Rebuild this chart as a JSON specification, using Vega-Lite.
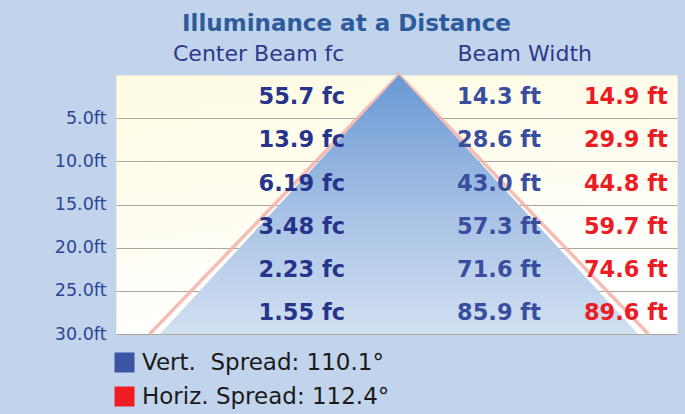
{
  "$schema": "https://vega.github.io/schema/vega-lite/v6.json",
  "width": 561,
  "height": 259,
  "autosize": {"type": "none"},
  "padding": {"left": 116, "top": 75, "right": 8, "bottom": 80},
  "background": "#c2d4ec",
  "title": {
    "text": "Illuminance at a Distance",
    "font": "DejaVu Sans",
    "fontSize": 23,
    "fontWeight": "bold",
    "color": "#2e5b9c",
    "anchor": "middle",
    "dx": -50,
    "offset": 6
  },
  "config": {
    "view": {
      "fill": {"gradient": "linear", "x1": 0, "y1": 0, "x2": 0.3, "y2": 1, "stops": [{"offset": 0, "color": "#fffbe2"}, {"offset": 1, "color": "#ffffff"}]},
      "stroke": "#eeeae0"
    }
  },
  "data": {
    "values": [
      {"d": 5, "fc": 55.7, "vert": 14.3, "horiz": 14.9},
      {"d": 10, "fc": 13.9, "vert": 28.6, "horiz": 29.9},
      {"d": 15, "fc": 6.19, "vert": 43.0, "horiz": 44.8},
      {"d": 20, "fc": 3.48, "vert": 57.3, "horiz": 59.7},
      {"d": 25, "fc": 2.23, "vert": 71.6, "horiz": 74.6},
      {"d": 30, "fc": 1.55, "vert": 85.9, "horiz": 89.6}
    ]
  },
  "layer": [
    {
      "data": {"values": [{"w": -44.8, "d": 30}, {"w": 0, "d": 0}, {"w": 44.8, "d": 30}]},
      "mark": {"type": "line", "color": "#f3b2a8", "strokeWidth": 3.5, "opacity": 0.85, "clip": false},
      "encoding": {
        "x": {
          "field": "w", "type": "quantitative",
          "scale": {"domain": [-50.85, 49.95], "nice": false, "zero": false},
          "axis": {
            "orient": "top", "values": [-25.3, 22.5],
            "labelExpr": "datum.value < 0 ? 'Center Beam fc' : 'Beam Width'",
            "labelFont": "DejaVu Sans", "labelFontSize": 22, "labelColor": "#2b3a8a",
            "labelPadding": 10, "ticks": false, "domain": false, "grid": false, "title": null
          }
        },
        "y": {
          "field": "d", "type": "quantitative",
          "scale": {"domain": [0, 30], "reverse": true, "nice": false, "zero": false},
          "axis": {
            "values": [5, 10, 15, 20, 25, 30],
            "labelExpr": "format(datum.value, '.1f') + 'ft'",
            "labelFont": "DejaVu Sans", "labelFontSize": 17.5, "labelColor": "#2b4595",
            "labelPadding": 10, "ticks": false, "domain": false,
            "grid": true, "gridColor": "#aca69c", "gridWidth": 1.2, "title": null
          }
        },
        "order": {"field": "w", "type": "quantitative"}
      }
    },
    {
      "data": {"values": [{"w": -42.95, "d": 30}, {"w": 0, "d": 0}, {"w": 42.95, "d": 30}]},
      "mark": {
        "type": "area",
        "clip": false,
        "color": {"gradient": "linear", "x1": 0, "y1": 0, "x2": 0, "y2": 1, "stops": [{"offset": 0, "color": "#6a98d4"}, {"offset": 0.55, "color": "#a9c3e6"}, {"offset": 1, "color": "#d2e0f2"}]}
      },
      "encoding": {
        "x": {"field": "w", "type": "quantitative"},
        "y": {"field": "d", "type": "quantitative"},
        "y2": {"datum": 30}
      }
    },
    {
      "transform": [{"calculate": "format(datum.fc, '.3') + ' fc'", "as": "fcl"}],
      "mark": {"type": "text", "align": "right", "baseline": "middle", "dy": -21, "font": "DejaVu Sans", "fontSize": 22.5, "fontWeight": "bold", "color": "#27348b"},
      "encoding": {
        "x": {"datum": -9.7},
        "y": {"field": "d", "type": "quantitative"},
        "text": {"field": "fcl"}
      }
    },
    {
      "transform": [{"calculate": "format(datum.vert, '.1f') + ' ft'", "as": "vl"}],
      "mark": {"type": "text", "align": "right", "baseline": "middle", "dy": -21, "font": "DejaVu Sans", "fontSize": 22.5, "fontWeight": "bold", "color": "#3a4ea0"},
      "encoding": {
        "x": {"datum": 25.5},
        "y": {"field": "d", "type": "quantitative"},
        "text": {"field": "vl"}
      }
    },
    {
      "transform": [{"calculate": "format(datum.horiz, '.1f') + ' ft'", "as": "hl"}],
      "mark": {"type": "text", "align": "right", "baseline": "middle", "dy": -21, "font": "DejaVu Sans", "fontSize": 22.5, "fontWeight": "bold", "color": "#ec1c24"},
      "encoding": {
        "x": {"datum": 48.3},
        "y": {"field": "d", "type": "quantitative"},
        "text": {"field": "hl"}
      }
    },
    {
      "data": {"values": [{"series": "Vert.\u00a0 Spread: 110.1°"}, {"series": "Horiz. Spread: 112.4°"}]},
      "mark": {"type": "point", "filled": true, "opacity": 0},
      "encoding": {
        "x": {"datum": 0},
        "y": {"datum": 0},
        "color": {
          "field": "series", "type": "nominal",
          "scale": {"domain": ["Vert.\u00a0 Spread: 110.1°", "Horiz. Spread: 112.4°"], "range": ["#3b55a5", "#ee1d23"]},
          "legend": {
            "orient": "none", "legendX": -3, "legendY": 276, "title": null,
            "symbolType": "square", "symbolSize": 400, "symbolOpacity": 1, "symbolStrokeWidth": 0,
            "labelFont": "DejaVu Sans", "labelFontSize": 23, "labelColor": "#1a1a1a",
            "rowPadding": 10, "labelOffset": 6, "labelLimit": 400
          }
        }
      }
    }
  ]
}
